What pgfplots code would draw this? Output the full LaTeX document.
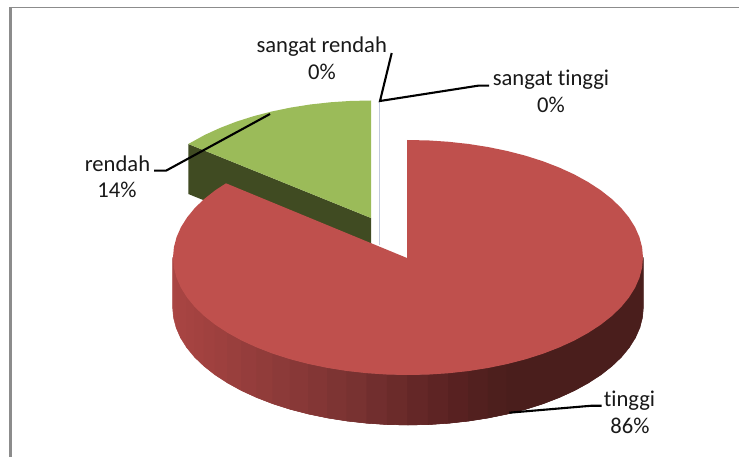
\documentclass[border=0pt]{standalone}
\usepackage{fontspec}
\setmainfont{Carlito}[Ligatures=NoCommon]
\usepackage{pgfplots}
\pgfplotsset{compat=1.18}
\definecolor{redtop}{HTML}{BF504D}
\definecolor{greentop}{HTML}{9BBB59}
\definecolor{greenside}{HTML}{404B22}
\definecolor{frameline}{HTML}{8C8C8C}
\definecolor{gapline}{HTML}{C4CBDD}
\pgfplotsset{colormap={rim}{rgb255(0pt)=(170,69,67); rgb255(177pt)=(122,51,50); rgb255(277pt)=(90,34,34); rgb255(337pt)=(74,30,28); rgb255(470pt)=(74,30,28)}}
\newcommand{\lab}[3]{\node[anchor=base,inner sep=0pt,text=black!90,font=\fontsize{22.6}{27}\selectfont] at (axis cs:#1,#2) {#3};}
% drawn twice, a hair apart, so that no seam shows between the strips
\newcommand{\rimplot}[1]{\addplot[patch, patch type=rectangle, colormap name=rim, shader=flat, point meta=x, #1] coordinates {
(173,257.5)(173.9,267.7)(173.9,317.7)(173,307.5)
(173.9,267.7)(176.6,277.9)(176.6,327.9)(173.9,317.7)
(176.6,277.9)(181,287.9)(181,337.9)(176.6,327.9)
(181,287.9)(187.2,297.7)(187.2,347.7)(181,337.9)
(187.2,297.7)(195,307.2)(195,357.2)(187.2,347.7)
(195,307.2)(204.5,316.25)(204.5,366.25)(195,357.2)
(204.5,316.25)(215.5,324.9)(215.5,374.9)(204.5,366.25)
(215.5,324.9)(228,333)(228,383)(215.5,374.9)
(228,333)(241.8,340.6)(241.8,390.6)(228,383)
(241.8,340.6)(256.9,347.5)(256.9,397.5)(241.8,390.6)
(256.9,347.5)(273.2,353.8)(273.2,403.8)(256.9,397.5)
(273.2,353.8)(290.5,359.3)(290.5,409.3)(273.2,403.8)
(290.5,359.3)(308.7,364)(308.7,414)(290.5,409.3)
(308.7,364)(327.6,367.9)(327.6,417.9)(308.7,414)
(327.6,367.9)(347.2,371)(347.2,421)(327.6,417.9)
(347.2,371)(367.2,373.2)(367.2,423.2)(347.2,421)
(367.2,373.2)(387.5,374.55)(387.5,424.55)(367.2,423.2)
(387.5,374.55)(408,375)(408,425)(387.5,424.55)
(408,375)(428.5,374.55)(428.5,424.55)(408,425)
(428.5,374.55)(448.8,373.2)(448.8,423.2)(428.5,424.55)
(448.8,373.2)(468.8,371)(468.8,421)(448.8,423.2)
(468.8,371)(488.4,367.9)(488.4,417.9)(468.8,421)
(488.4,367.9)(507.3,364)(507.3,414)(488.4,417.9)
(507.3,364)(525.5,359.3)(525.5,409.3)(507.3,414)
(525.5,359.3)(542.8,353.8)(542.8,403.8)(525.5,409.3)
(542.8,353.8)(559.1,347.5)(559.1,397.5)(542.8,403.8)
(559.1,347.5)(574.2,340.6)(574.2,390.6)(559.1,397.5)
(574.2,340.6)(588,333)(588,383)(574.2,390.6)
(588,333)(600.5,324.9)(600.5,374.9)(588,383)
(600.5,324.9)(611.5,316.25)(611.5,366.25)(600.5,374.9)
(611.5,316.25)(621,307.2)(621,357.2)(611.5,366.25)
(621,307.2)(628.8,297.7)(628.8,347.7)(621,357.2)
(628.8,297.7)(635,287.9)(635,337.9)(628.8,347.7)
(635,287.9)(639.4,277.9)(639.4,327.9)(635,337.9)
(639.4,277.9)(642.1,267.7)(642.1,317.7)(639.4,327.9)
(642.1,267.7)(643,257.5)(643,307.5)(642.1,317.7)
};}
\begin{document}
\begin{tikzpicture}
\begin{axis}[
    scale only axis, width=739pt, height=457pt,
    xmin=0, xmax=739, ymin=0, ymax=457,
    y dir=reverse, hide axis,
    point meta min=173, point meta max=643,
]
% page background
\addplot[draw=none, fill=white] coordinates {(0,0)(739,0)(739,457)(0,457)} -- cycle;
% frame
\addplot[frameline, line width=2.6pt] coordinates {(10.5,7)(10.5,457)};
\addplot[frameline, line width=1.2pt] coordinates {(10,7.5)(739,7.5)};
% rendah: cut face, then top
\addplot[draw=none, fill=greenside] coordinates {(188.3,144)(371,218)(371,268)(188.3,194)} -- cycle;
\addplot[draw=none, fill=greentop] coordinates {(371,218)(371,100.5)(350.5,100.95)(330.2,102.3)(310.2,104.5)(290.6,107.6)(271.7,111.5)(253.5,116.2)(236.2,121.7)(219.9,128)(204.8,134.9)(188.3,144)} -- cycle;
% the 0% slices are a thin sliver
\addplot[gapline, line width=1.5pt] coordinates {(379.3,101)(379.3,245)};
% tinggi: rim
\rimplot{xshift=0.4pt}
\rimplot{xshift=-0.4pt}
% tinggi: top
\addplot[draw=none, fill=redtop] coordinates {(407,258)(407,140)(428.5,140.45)(448.8,141.8)(468.8,144)(488.4,147.1)(507.3,151)(525.5,155.7)(542.8,161.2)(559.1,167.5)(574.2,174.4)(588,182)(600.5,190.1)(611.5,198.75)(621,207.8)(628.8,217.3)(635,227.1)(639.4,237.1)(642.1,247.3)(643,257.5)
(642.1,267.7)(639.4,277.9)(635,287.9)(628.8,297.7)(621,307.2)(611.5,316.25)(600.5,324.9)(588,333)(574.2,340.6)(559.1,347.5)(542.8,353.8)(525.5,359.3)(507.3,364)(488.4,367.9)(468.8,371)(448.8,373.2)(428.5,374.55)(408,375)
(387.5,374.55)(367.2,373.2)(347.2,371)(327.6,367.9)(308.7,364)(290.5,359.3)(273.2,353.8)(256.9,347.5)(241.8,340.6)(228,333)(215.5,324.9)(204.5,316.25)(195,307.2)(187.2,297.7)(181,287.9)(176.6,277.9)(173.9,267.7)(173,257.5)
(173.9,247.3)(176.6,237.1)(181,227.1)(187.2,217.3)(195,207.8)(204.5,198.75)(215.5,190.1)(226,183.3)} -- cycle;
% leader lines
\addplot[black, line width=2.1pt] coordinates {(391.7,53)(380,101)(478,85.7)(489,85.7)};
\addplot[black, line width=2.1pt] coordinates {(270,114)(166,170.7)(154,170.7)};
\addplot[black, line width=2.1pt] coordinates {(509.3,412.7)(591.7,405.7)(601.7,405.7)};
% data labels
\lab{321.7}{53}{sangat rendah}
\lab{322}{80}{0\%}
\lab{551}{86}{sangat tinggi}
\lab{551}{113}{0\%}
\lab{117.5}{171.7}{rendah}
\lab{117}{198}{14\%}
\lab{629.5}{406.7}{tinggi}
\lab{630}{433.3}{86\%}
\end{axis}
\end{tikzpicture}
\end{document}
